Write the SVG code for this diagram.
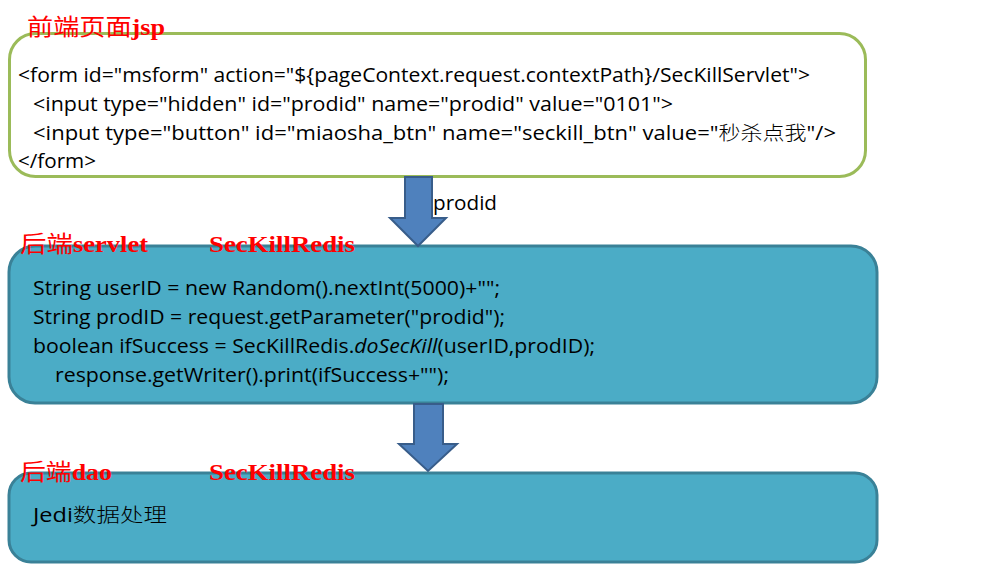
<svg xmlns="http://www.w3.org/2000/svg" width="992" height="566" viewBox="0 0 992 566">
<style>
.box1{fill:#fff;stroke:#9BBB59;stroke-width:3}
.box2{fill:#4BACC6;stroke:#3A8197;stroke-width:3}
.arrow{fill:#4F81BD;stroke:#385D8A;stroke-width:2;stroke-linejoin:miter}
.code{font-family:"Open Sans","Liberation Sans","Noto Sans CJK SC",sans-serif;font-size:19.5px;fill:#000}
.title{font-family:"Liberation Serif","Noto Sans CJK SC",serif;font-size:23px;font-weight:bold;fill:#FF0000}
.cjk{font-weight:normal}
</style>
<rect width="992" height="566" fill="#fff"/>
<g id="node-jsp">
<rect class="box1" x="9.5" y="33.5" width="856" height="143" rx="26"/>
<text class="code" x="18" y="82" textLength="792" lengthAdjust="spacingAndGlyphs">&lt;form id="msform"  action="${pageContext.request.contextPath}/SecKillServlet"&gt;</text>
<text class="code" x="33" y="111" textLength="640" lengthAdjust="spacingAndGlyphs">&lt;input type="hidden" id="prodid" name="prodid" value="0101"&gt;</text>
<text class="code" x="33" y="140" textLength="803" lengthAdjust="spacingAndGlyphs">&lt;input type="button"  id="miaosha_btn" name="seckill_btn" value="<tspan font-family="'Noto Sans CJK SC',sans-serif" font-weight="300">秒杀点我</tspan>"/&gt;</text>
<text class="code" x="18" y="168" textLength="78" lengthAdjust="spacingAndGlyphs">&lt;/form&gt;</text>
<text class="title" x="27" y="35" textLength="138" lengthAdjust="spacingAndGlyphs"><tspan class="cjk">前端页面</tspan>jsp</text>
</g>
<g id="node-servlet">
<rect class="box2" x="9" y="246" width="868" height="157" rx="26"/>
<text class="code" x="33" y="295" textLength="467" lengthAdjust="spacingAndGlyphs">String userID = new Random().nextInt(5000)+"";</text>
<text class="code" x="33" y="324" textLength="472" lengthAdjust="spacingAndGlyphs">String prodID = request.getParameter("prodid");</text>
<text class="code" x="33" y="353" textLength="562" lengthAdjust="spacingAndGlyphs">boolean ifSuccess = SecKillRedis.<tspan font-style="italic">doSecKill</tspan>(userID,prodID);</text>
<text class="code" x="55" y="382" textLength="394" lengthAdjust="spacingAndGlyphs">response.getWriter().print(ifSuccess+"");</text>
<text class="title" x="20" y="252" textLength="128" lengthAdjust="spacingAndGlyphs"><tspan class="cjk">后端</tspan>servlet</text>
<text class="title" x="209" y="252" textLength="146" lengthAdjust="spacingAndGlyphs">SecKillRedis</text>
</g>
<g id="node-dao">
<rect class="box2" x="9" y="473" width="868" height="89" rx="22"/>
<text class="code" x="33" y="522" textLength="134" lengthAdjust="spacingAndGlyphs">Jedi<tspan font-weight="300">数据处理</tspan></text>
<text class="title" x="20" y="480" textLength="92" lengthAdjust="spacingAndGlyphs"><tspan class="cjk">后端</tspan>dao</text>
<text class="title" x="209" y="480" textLength="146" lengthAdjust="spacingAndGlyphs">SecKillRedis</text>
</g>
<g id="connectors">
<polygon class="arrow" points="405,177 432,177 432,218 446,218 418,246 390,218 405,218"/>
<text class="code" x="433" y="210" textLength="64" lengthAdjust="spacingAndGlyphs">prodid</text>
<polygon class="arrow" points="414,404 443,404 443,444 457,444 428,471 399,444 414,444"/>
</g>
</svg>
